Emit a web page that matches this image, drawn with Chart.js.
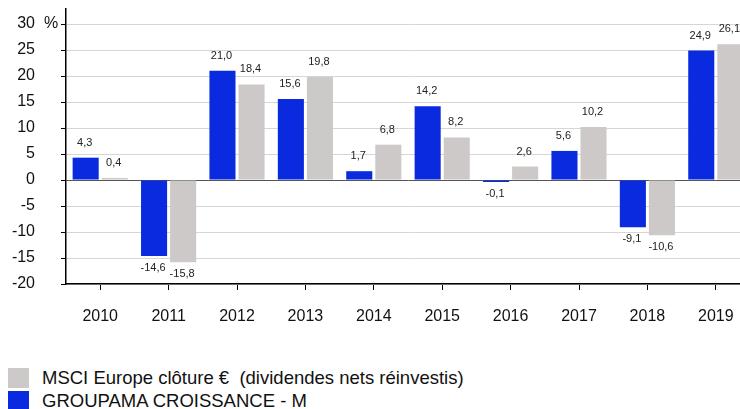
<!DOCTYPE html>
<html>
<head>
  <title>Performances annuelles</title>
  <script src="https://cdn.jsdelivr.net/npm/chart.js"></script>
  <style>
    body {
      margin: 0;
      padding: 0;
      width: 740px;
      height: 409px;
      overflow: hidden;
      position: relative;
      background: #fff;
      font-family: Arial, "Liberation Sans", sans-serif;
    }
    #chart {
      position: absolute;
      left: 0;
      top: 0;
    }
    .legend-item {
      position: absolute;
      left: 8px;
      height: 20px;
      display: flex;
      align-items: center;
      font-size: 18.5px;
      color: #111;
      white-space: pre;
    }
    .legend-box {
      width: 21px;
      height: 20px;
      margin-right: 13px;
    }
  </style>
</head>
<body>
  <canvas id="chart" width="750" height="340"></canvas>
  <div id="legend"></div>
  <script>
    const years = ['2010', '2011', '2012', '2013', '2014', '2015', '2016', '2017', '2018', '2019'];
    const groupama = [4.3, -14.6, 21.0, 15.6, 1.7, 14.2, -0.1, 5.6, -9.1, 24.9];
    const msci = [0.4, -15.8, 18.4, 19.8, 6.8, 8.2, 2.6, 10.2, -10.6, 26.1];
    const groupamaName = 'GROUPAMA CROISSANCE - M';
    const msciName = 'MSCI Europe clôture €  (dividendes nets réinvestis)';

    const blue = '#0a2ae0';
    const gray = '#cdc9c8';

    // value labels above / below each bar, french decimal comma
    const valueLabels = {
      id: 'valueLabels',
      afterDatasetsDraw(chart) {
        const ctx = chart.ctx;
        ctx.save();
        ctx.font = '11px Arial';
        ctx.fillStyle = '#222';
        ctx.textAlign = 'center';
        ctx.textBaseline = 'middle';
        chart.data.datasets.forEach((ds, i) => {
          chart.getDatasetMeta(i).data.forEach((bar, j) => {
            const v = ds.data[j];
            const y = v >= 0 ? bar.y - 15 : bar.y + 12;
            ctx.fillText(v.toFixed(1).replace('.', ','), bar.x - 1, y);
          });
        });
        ctx.restore();
      }
    };

    // "%" unit next to the top tick
    const unitLabel = {
      id: 'unitLabel',
      afterDraw(chart) {
        const ctx = chart.ctx;
        const y = chart.scales.y.getPixelForValue(30);
        ctx.save();
        ctx.font = '16px Arial';
        ctx.fillStyle = '#111';
        ctx.textAlign = 'center';
        ctx.textBaseline = 'middle';
        ctx.fillText('%', 51, y);
        ctx.restore();
      }
    };

    const ctx = document.getElementById('chart').getContext('2d');
    new Chart(ctx, {
      type: 'bar',
      data: {
        labels: years,
        datasets: [{
          label: groupamaName,
          data: groupama,
          backgroundColor: blue,
          borderWidth: 0,
          minBarLength: 2
        }, {
          label: msciName,
          data: msci,
          backgroundColor: gray,
          borderWidth: 0,
          minBarLength: 2
        }]
      },
      options: {
        responsive: false,
        animation: false,
        maintainAspectRatio: false,
        categoryPercentage: 0.85,
        barPercentage: 0.897,
        layout: { padding: 0 },
        scales: {
          x: {
            grid: {
              offset: false,
              drawOnChartArea: false,
              drawTicks: true,
              tickLength: 6,
              tickColor: '#000'
            },
            border: { color: '#000', width: 1.5 },
            ticks: {
              color: '#111',
              padding: 17,
              font: { family: 'Arial', size: 16 }
            },
            afterFit(axis) {
              axis.height = 56;
              axis.paddingLeft = 0;
              axis.paddingRight = 0;
            }
          },
          y: {
            min: -20,
            max: 32.9,
            grid: {
              color: c => (c.tick && c.tick.value === 0) ? '#555' : '#d6d6d6',
              lineWidth: 1,
              tickLength: 5,
              tickColor: '#000'
            },
            border: { color: '#000', width: 1.5 },
            ticks: {
              stepSize: 5,
              includeBounds: false,
              color: '#111',
              padding: 26,
              font: { family: 'Arial', size: 16 }
            },
            afterFit(axis) {
              axis.width = 66;
              axis.paddingTop = 9;
              axis.paddingBottom = 0;
            }
          }
        },
        plugins: {
          legend: { display: false },
          tooltip: { enabled: false }
        }
      },
      plugins: [valueLabels, unitLabel]
    });

    // legend, MSCI listed first as in the original
    const legendEntries = [[msciName, gray, 368], [groupamaName, blue, 391]];
    const legend = document.getElementById('legend');
    legendEntries.forEach(([name, color, top]) => {
      const item = document.createElement('div');
      item.className = 'legend-item';
      item.style.top = top + 'px';
      const box = document.createElement('div');
      box.className = 'legend-box';
      box.style.background = color;
      item.appendChild(box);
      item.appendChild(document.createTextNode(name));
      legend.appendChild(item);
    });
  </script>
</body>
</html>
